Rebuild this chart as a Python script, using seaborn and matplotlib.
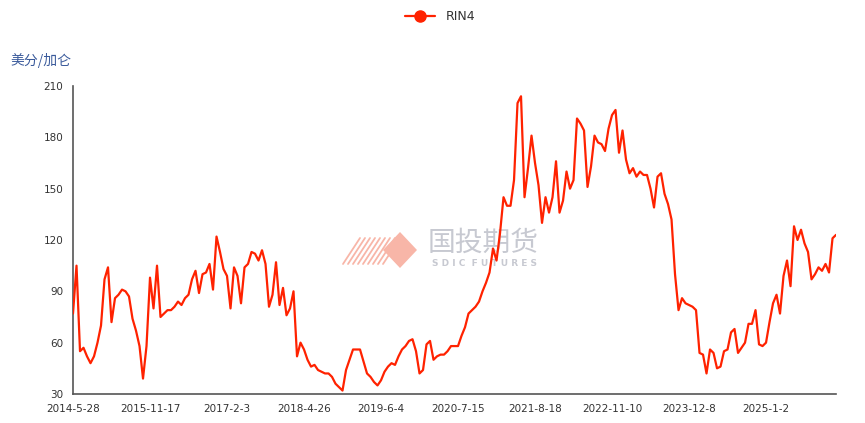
import matplotlib
matplotlib.use('Agg')
import pandas as pd
import seaborn as sns
from matplotlib import pyplot as plt
from matplotlib.lines import Line2D
from matplotlib.patches import Polygon

# RIN4 price, cents per gallon (~22 points per tick interval)
rin4 = [
    77, 105, 55, 57, 52, 48, 52, 60, 70, 97, 104, 72, 86, 88, 91, 90, 87, 74, 67, 58, 39, 58,
    98, 80, 105, 75, 77, 79, 79, 81, 84, 82, 86, 88, 97, 102, 89, 100, 101, 106, 91, 122, 113, 103,
    99, 80, 104, 99, 83, 104, 106, 113, 112, 108, 114, 106, 81, 88, 107, 82, 92, 76, 80, 90, 52, 60,
    56, 50, 46, 47, 44, 43, 42, 42, 40, 36, 34, 32, 44, 50, 56, 56, 56, 49, 42, 40, 37, 35,
    38, 43, 46, 48, 47, 52, 56, 58, 61, 62, 55, 42, 44, 59, 61, 50, 52, 53, 53, 55, 58, 58,
    58, 64, 69, 77, 79, 81, 84, 90, 95, 101, 115, 108, 124, 145, 140, 140, 155, 200, 204, 145, 162, 181,
    165, 152, 130, 145, 136, 145, 166, 136, 143, 160, 150, 155, 191, 188, 184, 151, 163, 181, 177, 176, 172, 185,
    193, 196, 171, 184, 167, 159, 162, 157, 160, 158, 158, 150, 139, 157, 159, 147, 141, 132, 100, 79, 86, 83,
    82, 81, 79, 54, 53, 42, 56, 54, 45, 46, 55, 56, 66, 68, 54, 57, 60, 71, 71, 79, 59, 58,
    60, 72, 83, 88, 77, 99, 108, 93, 128, 120, 126, 118, 113, 97, 100, 104, 102, 106, 101, 121, 123,
]
date_labels = ['2014-5-28', '2015-11-17', '2017-2-3', '2018-4-26', '2019-6-4',
               '2020-7-15', '2021-8-18', '2022-11-10', '2023-12-8', '2025-1-2']
y_ticks = [30, 60, 90, 120, 150, 180, 210]
series_name = 'RIN4'
unit = '美分/加仑'

sns.set_style('white')
plt.rcParams['font.family'] = ['DejaVu Sans', 'Noto Sans CJK SC']

df = pd.DataFrame({'idx': range(len(rin4)), 'price': rin4})
red = '#ff2200'

fig = plt.figure(figsize=(8.65, 4.23), dpi=100)
ax = fig.add_axes([0.0844, 0.0686, 0.8821, 0.7281])
sns.lineplot(data=df, x='idx', y='price', color=red, linewidth=1.6, ax=ax, legend=False, zorder=3)

# category-style x axis: a labelled tick every 22 points, last tick at the end
step = 22
xt = list(range(0, len(rin4), step))[:len(date_labels)] + [len(rin4) - 1]
ax.set_xticks(xt)
ax.set_xticklabels(date_labels + [''])
ax.set_xlim(0, len(rin4) - 1)
ax.set_ylim(30, 210)
ax.set_yticks(y_ticks)
ax.set_xlabel('')
ax.set_ylabel('')
ax.grid(False)
ax.set_facecolor('none')

for s in ['top', 'right']:
    ax.spines[s].set_visible(False)
for s in ['left', 'bottom']:
    ax.spines[s].set_color('#555555')
    ax.spines[s].set_linewidth(1.2)
ax.tick_params(direction='out', length=4, width=1.2, colors='#555555',
               labelcolor='#333333', labelsize=7.5, pad=3)

fig.text(0.012, 0.858, unit, family=['Noto Sans CJK SC', 'DejaVu Sans'],
         fontsize=10, color='#3a5a9b', va='center', ha='left')

handle = Line2D([], [], color=red, marker='o', markersize=8, linewidth=1.6)
fig.legend([handle], [series_name], loc='center', bbox_to_anchor=(0.509, 0.96),
           frameon=False, fontsize=9, handlelength=2.4, labelcolor='#333333')

# watermark
wm = '#f8b6a8'
ax.text(400 / 865 + 0.0, 0, '', transform=fig.transFigure)
fig.patches.append(Polygon([(400 / 865, 1 - 232 / 423), (417 / 865, 1 - 250 / 423),
                            (400 / 865, 1 - 268 / 423), (383 / 865, 1 - 250 / 423)],
                           closed=True, facecolor=wm, edgecolor='none',
                           transform=fig.transFigure, zorder=0))
for k in range(9):
    x0 = 343 + k * 5
    fig.lines.append(Line2D([x0 / 865, (x0 + 17) / 865], [1 - 264 / 423, 1 - 238 / 423],
                            color=wm, linewidth=1.3, transform=fig.transFigure, zorder=0))
ax.text(483 / 865, 1 - 243 / 423, '国投期货', transform=fig.transFigure,
        family=['Noto Sans CJK SC', 'DejaVu Sans'], fontsize=20, color='#c7c9d1',
        ha='center', va='center', zorder=1)
ax.text(485 / 865, 1 - 263 / 423, 'S D I C  F U T U R E S', transform=fig.transFigure,
        fontsize=6.5, fontweight='bold', color='#c7c9d1', ha='center', va='center', zorder=1)

fig.savefig('out.png', dpi=100)
